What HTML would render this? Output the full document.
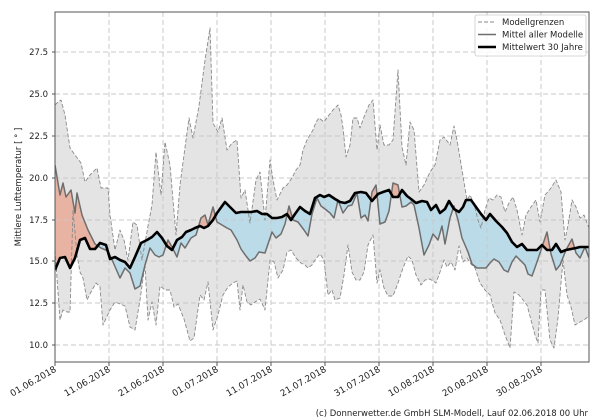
<!DOCTYPE html>
<html><head><meta charset="utf-8"><style>
html,body{margin:0;padding:0;background:#fff;}
svg{display:block;font-family:"DejaVu Sans","Liberation Sans",sans-serif;}
</style></head><body>
<svg width="600" height="420" viewBox="0 0 600 420" xmlns="http://www.w3.org/2000/svg">
<defs>
<clipPath id="plot"><rect x="55" y="12" width="534" height="350"/></clipPath>
<clipPath id="belowU"><polygon points="55,105 58,102 61,100 65,115 70,148 75,155 81,163 85,182 90,175 97,168 101,188 108,188 110,215 115,250 120,230 124,240 128,260 133,222 137,225 142,260 148,226 152,205 156,152 161,195 165,142 170,165 176,235 180,185 184,155 189,118 193,138 199,106 205,60 210,28 213,123 218,132 222,118 227,150 232,143 237,140 241,198 245,190 250,223 256,180 260,172 265,220 270,160 273,180 277,200 283,188 287,185 292,178 296,170 300,165 303,150 307,140 313,130 316,122 319,118 324,122 329,115 333,110 338,105 341,115 343,128 346,157 350,145 353,118 357,118 360,128 364,117 369,105 373,100 377,150 380,125 384,145 389,145 393,140 398,70 402,147 406,165 410,122 414,130 419,192 424,185 430,172 435,165 440,140 444,137 450,145 454,126 457,140 462,170 467,200 470,195 474,204 478,220 481,228 485,210 489,198 493,200 497,195 501,197 505,212 509,203 513,197 517,210 522,235 526,215 531,207 536,200 540,222 545,195 551,188 556,180 561,192 565,240 568,225 572,200 576,207 580,218 584,215 589,228 589,362 55,362"/></clipPath>
<clipPath id="aboveT"><polygon points="55,270 60,258 65,257 70,268 75,258 80,240 85,238 90,249 95,249 100,243 106,245 110,259 115,257 120,260 125,262 130,268 135,257 141,243 147,240 152,237 157,232 162,238 167,246 172,250 177,240 182,237 186,232 191,230 195,228 200,226 204,228 208,226 213,220 217,213 225,202 230,207 236,213 241,212 246,212 251,212 257,211 262,214 267,214 272,218 277,218 282,217 287,214 291,220 295,214 300,207 305,211 310,214 315,198 320,195 324,197 329,195 335,199 340,202 345,203 350,201 355,193 361,192 366,193 372,201 378,194 383,192 389,190 393,197 398,197 402,190 407,196 411,199 416,203 422,201 427,202 431,210 436,205 440,213 445,209 449,201 454,209 459,212 463,207 466,200 471,200 476,207 481,214 486,220 490,214 496,221 502,227 507,233 512,242 517,247 522,244 527,250 532,250 537,250 542,245 547,250 552,250 556,244 561,252 566,250 571,249 576,248 580,247 584,247 589,247 589,12 55,12"/></clipPath>
<clipPath id="belowT"><polygon points="55,270 60,258 65,257 70,268 75,258 80,240 85,238 90,249 95,249 100,243 106,245 110,259 115,257 120,260 125,262 130,268 135,257 141,243 147,240 152,237 157,232 162,238 167,246 172,250 177,240 182,237 186,232 191,230 195,228 200,226 204,228 208,226 213,220 217,213 225,202 230,207 236,213 241,212 246,212 251,212 257,211 262,214 267,214 272,218 277,218 282,217 287,214 291,220 295,214 300,207 305,211 310,214 315,198 320,195 324,197 329,195 335,199 340,202 345,203 350,201 355,193 361,192 366,193 372,201 378,194 383,192 389,190 393,197 398,197 402,190 407,196 411,199 416,203 422,201 427,202 431,210 436,205 440,213 445,209 449,201 454,209 459,212 463,207 466,200 471,200 476,207 481,214 486,220 490,214 496,221 502,227 507,233 512,242 517,247 522,244 527,250 532,250 537,250 542,245 547,250 552,250 556,244 561,252 566,250 571,249 576,248 580,247 584,247 589,247 589,362 55,362"/></clipPath>
<clipPath id="belowM"><polygon points="55,165 60,195 63,183 66,197 71,190 75,213 77,193 82,215 88,230 95,244 101,248 108,251 113,262 120,278 125,268 130,273 135,289 140,286 145,265 150,248 155,255 159,257 163,255 168,240 172,247 177,257 181,243 185,248 191,238 196,235 201,218 205,215 208,225 213,207 217,222 222,225 227,228 231,230 237,240 241,249 246,256 250,261 255,258 259,252 265,253 272,232 276,238 281,234 285,224 289,206 293,220 298,222 304,230 308,236 312,214 317,198 321,206 325,209 330,213 334,218 338,200 343,213 348,206 352,205 357,193 361,218 365,215 368,221 372,192 376,185 380,224 385,222 389,211 393,183 398,185 402,207 406,206 411,202 414,205 419,228 424,255 429,245 433,234 438,240 442,226 445,244 450,218 454,206 458,220 462,238 468,252 472,264 477,268 482,268 486,268 490,263 494,259 499,262 504,270 508,272 512,262 516,256 520,260 525,265 528,274 532,276 537,262 542,247 547,232 551,254 556,270 560,265 566,250 572,239 576,253 580,258 585,247 589,258 589,362 55,362"/></clipPath>
<clipPath id="aboveM"><polygon points="55,165 60,195 63,183 66,197 71,190 75,213 77,193 82,215 88,230 95,244 101,248 108,251 113,262 120,278 125,268 130,273 135,289 140,286 145,265 150,248 155,255 159,257 163,255 168,240 172,247 177,257 181,243 185,248 191,238 196,235 201,218 205,215 208,225 213,207 217,222 222,225 227,228 231,230 237,240 241,249 246,256 250,261 255,258 259,252 265,253 272,232 276,238 281,234 285,224 289,206 293,220 298,222 304,230 308,236 312,214 317,198 321,206 325,209 330,213 334,218 338,200 343,213 348,206 352,205 357,193 361,218 365,215 368,221 372,192 376,185 380,224 385,222 389,211 393,183 398,185 402,207 406,206 411,202 414,205 419,228 424,255 429,245 433,234 438,240 442,226 445,244 450,218 454,206 458,220 462,238 468,252 472,264 477,268 482,268 486,268 490,263 494,259 499,262 504,270 508,272 512,262 516,256 520,260 525,265 528,274 532,276 537,262 542,247 547,232 551,254 556,270 560,265 566,250 572,239 576,253 580,258 585,247 589,258 589,12 55,12"/></clipPath>
</defs>

<g clip-path="url(#plot)">
<rect x="55" y="12" width="534" height="350" fill="#e4e4e4" clip-path="url(#belowU)"/>
<polygon fill="#ffffff" points="55,250 60,320 63,310 67,312 70,312 73,210 77,255 80,272 83,278 87,300 91,292 96,283 100,287 103,325 110,310 115,302 120,304 125,306 130,327 135,330 140,300 145,265 148,320 152,302 156,325 160,286 165,290 170,290 174,307 178,304 184,319 190,341 194,338 200,295 204,300 208,282 213,330 218,315 223,295 228,287 233,283 237,281 240,310 243,285 247,302 251,305 255,302 260,299 265,310 270,260 274,262 278,278 283,270 287,252 291,250 296,258 301,263 305,265 308,268 312,265 315,260 320,254 324,260 328,295 332,290 335,300 340,298 344,275 348,245 352,272 356,280 360,280 364,272 368,245 373,235 377,283 380,270 384,288 388,296 393,296 398,283 403,268 408,256 412,260 416,275 421,285 425,280 430,279 436,283 440,272 444,260 447,267 451,262 455,270 459,246 463,262 467,258 471,264 475,268 480,283 485,290 490,295 495,313 500,320 505,335 510,348 514,292 519,295 523,300 527,305 531,320 535,335 538,343 541,290 545,290 550,340 554,348 558,318 563,260 567,295 571,307 575,325 580,322 584,320 589,316 589,362 55,362"/>
<g clip-path="url(#aboveT)"><rect x="55" y="12" width="534" height="350" fill="#e8b3a3" clip-path="url(#belowM)"/></g>
<g clip-path="url(#belowT)"><rect x="55" y="12" width="534" height="350" fill="#bcdbe8" clip-path="url(#aboveM)"/></g>
</g>

<g stroke="#c8c8c8" stroke-width="1" stroke-dasharray="5,3" fill="none">
<line x1="55" y1="345" x2="589" y2="345"/><line x1="55" y1="303" x2="589" y2="303"/>
<line x1="55" y1="261" x2="589" y2="261"/><line x1="55" y1="220" x2="589" y2="220"/>
<line x1="55" y1="178" x2="589" y2="178"/><line x1="55" y1="136" x2="589" y2="136"/>
<line x1="55" y1="94" x2="589" y2="94"/><line x1="55" y1="52" x2="589" y2="52"/>
<line x1="109" y1="12" x2="109" y2="362"/><line x1="163" y1="12" x2="163" y2="362"/>
<line x1="217" y1="12" x2="217" y2="362"/><line x1="271" y1="12" x2="271" y2="362"/>
<line x1="325" y1="12" x2="325" y2="362"/><line x1="379" y1="12" x2="379" y2="362"/>
<line x1="433" y1="12" x2="433" y2="362"/><line x1="487" y1="12" x2="487" y2="362"/>
<line x1="541" y1="12" x2="541" y2="362"/>
</g>

<g clip-path="url(#plot)" fill="none" stroke-linejoin="round">
<polyline stroke="#8a8a8a" stroke-width="0.9" stroke-dasharray="4,2" points="55,105 58,102 61,100 65,115 70,148 75,155 81,163 85,182 90,175 97,168 101,188 108,188 110,215 115,250 120,230 124,240 128,260 133,222 137,225 142,260 148,226 152,205 156,152 161,195 165,142 170,165 176,235 180,185 184,155 189,118 193,138 199,106 205,60 210,28 213,123 218,132 222,118 227,150 232,143 237,140 241,198 245,190 250,223 256,180 260,172 265,220 270,160 273,180 277,200 283,188 287,185 292,178 296,170 300,165 303,150 307,140 313,130 316,122 319,118 324,122 329,115 333,110 338,105 341,115 343,128 346,157 350,145 353,118 357,118 360,128 364,117 369,105 373,100 377,150 380,125 384,145 389,145 393,140 398,70 402,147 406,165 410,122 414,130 419,192 424,185 430,172 435,165 440,140 444,137 450,145 454,126 457,140 462,170 467,200 470,195 474,204 478,220 481,228 485,210 489,198 493,200 497,195 501,197 505,212 509,203 513,197 517,210 522,235 526,215 531,207 536,200 540,222 545,195 551,188 556,180 561,192 565,240 568,225 572,200 576,207 580,218 584,215 589,228"/>
<polyline stroke="#8a8a8a" stroke-width="0.9" stroke-dasharray="4,2" points="55,250 60,320 63,310 67,312 70,312 73,210 77,255 80,272 83,278 87,300 91,292 96,283 100,287 103,325 110,310 115,302 120,304 125,306 130,327 135,330 140,300 145,265 148,320 152,302 156,325 160,286 165,290 170,290 174,307 178,304 184,319 190,341 194,338 200,295 204,300 208,282 213,330 218,315 223,295 228,287 233,283 237,281 240,310 243,285 247,302 251,305 255,302 260,299 265,310 270,260 274,262 278,278 283,270 287,252 291,250 296,258 301,263 305,265 308,268 312,265 315,260 320,254 324,260 328,295 332,290 335,300 340,298 344,275 348,245 352,272 356,280 360,280 364,272 368,245 373,235 377,283 380,270 384,288 388,296 393,296 398,283 403,268 408,256 412,260 416,275 421,285 425,280 430,279 436,283 440,272 444,260 447,267 451,262 455,270 459,246 463,262 467,258 471,264 475,268 480,283 485,290 490,295 495,313 500,320 505,335 510,348 514,292 519,295 523,300 527,305 531,320 535,335 538,343 541,290 545,290 550,340 554,348 558,318 563,260 567,295 571,307 575,325 580,322 584,320 589,316"/>
<polyline stroke="#6e6e6e" stroke-width="1.5" points="55,165 60,195 63,183 66,197 71,190 75,213 77,193 82,215 88,230 95,244 101,248 108,251 113,262 120,278 125,268 130,273 135,289 140,286 145,265 150,248 155,255 159,257 163,255 168,240 172,247 177,257 181,243 185,248 191,238 196,235 201,218 205,215 208,225 213,207 217,222 222,225 227,228 231,230 237,240 241,249 246,256 250,261 255,258 259,252 265,253 272,232 276,238 281,234 285,224 289,206 293,220 298,222 304,230 308,236 312,214 317,198 321,206 325,209 330,213 334,218 338,200 343,213 348,206 352,205 357,193 361,218 365,215 368,221 372,192 376,185 380,224 385,222 389,211 393,183 398,185 402,207 406,206 411,202 414,205 419,228 424,255 429,245 433,234 438,240 442,226 445,244 450,218 454,206 458,220 462,238 468,252 472,264 477,268 482,268 486,268 490,263 494,259 499,262 504,270 508,272 512,262 516,256 520,260 525,265 528,274 532,276 537,262 542,247 547,232 551,254 556,270 560,265 566,250 572,239 576,253 580,258 585,247 589,258"/>
<polyline stroke="#000" stroke-width="2.6" points="55,270 60,258 65,257 70,268 75,258 80,240 85,238 90,249 95,249 100,243 106,245 110,259 115,257 120,260 125,262 130,268 135,257 141,243 147,240 152,237 157,232 162,238 167,246 172,250 177,240 182,237 186,232 191,230 195,228 200,226 204,228 208,226 213,220 217,213 225,202 230,207 236,213 241,212 246,212 251,212 257,211 262,214 267,214 272,218 277,218 282,217 287,214 291,220 295,214 300,207 305,211 310,214 315,198 320,195 324,197 329,195 335,199 340,202 345,203 350,201 355,193 361,192 366,193 372,201 378,194 383,192 389,190 393,197 398,197 402,190 407,196 411,199 416,203 422,201 427,202 431,210 436,205 440,213 445,209 449,201 454,209 459,212 463,207 466,200 471,200 476,207 481,214 486,220 490,214 496,221 502,227 507,233 512,242 517,247 522,244 527,250 532,250 537,250 542,245 547,250 552,250 556,244 561,252 566,250 571,249 576,248 580,247 584,247 589,247"/>
</g>

<rect x="55" y="12" width="534" height="350" fill="none" stroke="#555" stroke-width="1"/>

<g font-size="8.5" fill="#222" text-anchor="end">
<text x="48" y="348">10.0</text><text x="48" y="306">12.5</text>
<text x="48" y="264">15.0</text><text x="48" y="223">17.5</text>
<text x="48" y="181">20.0</text><text x="48" y="139">22.5</text>
<text x="48" y="97">25.0</text><text x="48" y="55">27.5</text>
</g>
<g stroke="#555"><line x1="52" y1="345" x2="55" y2="345"/><line x1="52" y1="303" x2="55" y2="303"/><line x1="52" y1="261" x2="55" y2="261"/><line x1="52" y1="220" x2="55" y2="220"/><line x1="52" y1="178" x2="55" y2="178"/><line x1="52" y1="136" x2="55" y2="136"/><line x1="52" y1="94" x2="55" y2="94"/><line x1="52" y1="52" x2="55" y2="52"/></g>
<g stroke="#555"><line x1="55" y1="362" x2="55" y2="366"/><line x1="109" y1="362" x2="109" y2="366"/><line x1="163" y1="362" x2="163" y2="366"/><line x1="217" y1="362" x2="217" y2="366"/><line x1="271" y1="362" x2="271" y2="366"/><line x1="325" y1="362" x2="325" y2="366"/><line x1="379" y1="362" x2="379" y2="366"/><line x1="433" y1="362" x2="433" y2="366"/><line x1="487" y1="362" x2="487" y2="366"/><line x1="541" y1="362" x2="541" y2="366"/></g>
<text x="21" y="187" font-size="8.5" fill="#222" text-anchor="middle" transform="rotate(-90 21 187)">Mittlere Lufttemperatur [ ° ]</text>

<g font-size="9" fill="#222" text-anchor="end">
<text transform="translate(57,371) rotate(-30)">01.06.2018</text>
<text transform="translate(111,371) rotate(-30)">11.06.2018</text>
<text transform="translate(165,371) rotate(-30)">21.06.2018</text>
<text transform="translate(219,371) rotate(-30)">01.07.2018</text>
<text transform="translate(273,371) rotate(-30)">11.07.2018</text>
<text transform="translate(327,371) rotate(-30)">21.07.2018</text>
<text transform="translate(381,371) rotate(-30)">31.07.2018</text>
<text transform="translate(435,371) rotate(-30)">10.08.2018</text>
<text transform="translate(489,371) rotate(-30)">20.08.2018</text>
<text transform="translate(543,371) rotate(-30)">30.08.2018</text>
</g>

<rect x="475" y="15" width="111" height="41" fill="#fff" fill-opacity="0.85" stroke="#ccc" stroke-width="0.8" rx="2"/>
<line x1="478" y1="22" x2="496" y2="22" stroke="#8a8a8a" stroke-width="1" stroke-dasharray="4,2"/>
<line x1="478" y1="34.5" x2="496" y2="34.5" stroke="#6e6e6e" stroke-width="1.5"/>
<line x1="478" y1="47" x2="496" y2="47" stroke="#000" stroke-width="2.6"/>
<g font-size="8.5" fill="#222">
<text x="502" y="25">Modellgrenzen</text>
<text x="502" y="37.5">Mittel aller Modelle</text>
<text x="502" y="50">Mittelwert 30 Jahre</text>
</g>

<text x="588" y="416" font-size="8.5" fill="#222" text-anchor="end">(c) Donnerwetter.de GmbH SLM-Modell, Lauf 02.06.2018 00 Uhr</text>
</svg>
</body></html>
